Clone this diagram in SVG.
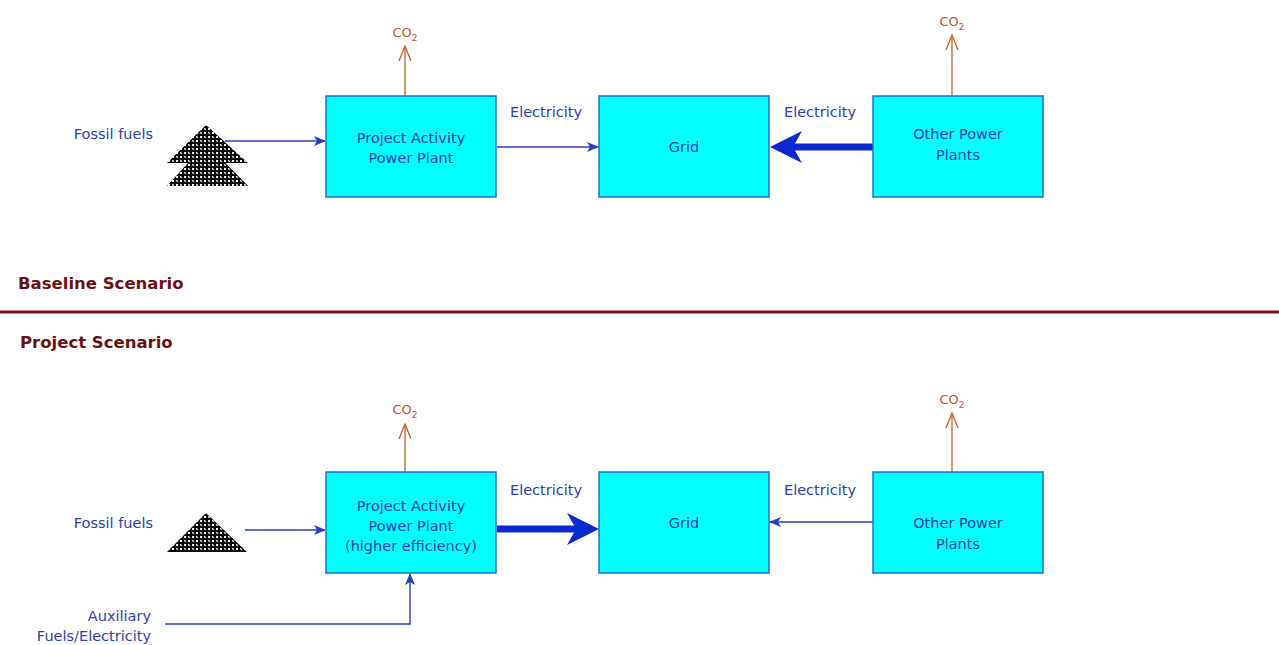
<svg xmlns="http://www.w3.org/2000/svg" width="1279" height="645" viewBox="0 0 1279 645">
<defs>
<style>
.box{fill:#00ffff;stroke:#1f6fd6;stroke-width:1.5}
.t{font-family:"DejaVu Sans",Verdana,sans-serif;font-size:14.5px;fill:#2a3fb0;text-anchor:middle}
.l{font-family:"DejaVu Sans",Verdana,sans-serif;font-size:14.5px;fill:#2a3fb0;text-anchor:end}
.co{font-family:"DejaVu Sans",Verdana,sans-serif;font-size:13px;fill:#c8501e;text-anchor:middle}
.h{font-family:"DejaVu Sans",Verdana,sans-serif;font-size:16.5px;font-weight:bold;fill:#6e1010}
.thin{stroke:#2a3fc0;stroke-width:1.4;fill:none}
.thick{stroke:#0a2ad0;stroke-width:7;fill:none}
.co2{stroke:#c8602a;stroke-width:1.3;fill:none}
</style>
<marker id="ah" viewBox="0 0 12 10" refX="11" refY="5" markerWidth="12" markerHeight="10" markerUnits="userSpaceOnUse" orient="auto">
<path d="M0,0 L12,5 L0,10 L3,5 Z" fill="#2a3fc0"/>
</marker>
<marker id="aco" viewBox="0 0 16 14" refX="15" refY="7" markerWidth="16" markerHeight="14" markerUnits="userSpaceOnUse" orient="auto">
<path d="M0,1 L15,7 L0,13" fill="none" stroke="#c8602a" stroke-width="1.3"/>
</marker>
<pattern id="pile" width="8" height="8" patternUnits="userSpaceOnUse">
<rect width="8" height="8" fill="#000"/>
<rect x="0" y="0" width="2" height="2" fill="#fff"/>
<rect x="4" y="4" width="2" height="2" fill="#fff"/>
<rect x="4" y="0" width="2" height="2" fill="#fff"/>
<rect x="0" y="4" width="2" height="2" fill="#fff"/>
<circle cx="6" cy="2" r="1.8" fill="#111"/>
<circle cx="2" cy="6" r="1.8" fill="#111"/>
<circle cx="5.5" cy="1.5" r="0.6" fill="#fff"/>
<circle cx="1.5" cy="5.5" r="0.6" fill="#fff"/>
</pattern>
</defs>
<rect width="1279" height="645" fill="#fff"/>

<g id="headings">
<text class="h" x="18" y="289">Baseline Scenario</text>
<line x1="0" y1="312" x2="1279" y2="312" stroke="#7a1515" stroke-width="3"/>
<text class="h" x="20" y="348">Project Scenario</text>
</g>

<g id="connectors">
<line class="thin" x1="225" y1="141" x2="325" y2="141" marker-end="url(#ah)"/>
<line class="thin" x1="497" y1="147" x2="598" y2="147" marker-end="url(#ah)"/>
<line class="thick" x1="873" y1="147" x2="790" y2="147"/>
<path d="M770,147 L802,131 L793,147 L802,163 Z" fill="#0a2ad0"/>
<line class="co2" x1="405" y1="96" x2="405" y2="46" marker-end="url(#aco)"/>
<line class="co2" x1="952" y1="96" x2="952" y2="35" marker-end="url(#aco)"/>

<line class="thin" x1="245" y1="530" x2="325" y2="530" marker-end="url(#ah)"/>
<line class="thick" x1="497" y1="529" x2="578" y2="529"/>
<path d="M599,529 L567,513 L576,529 L567,545 Z" fill="#0a2ad0"/>
<line class="thin" x1="873" y1="522" x2="770" y2="522" marker-end="url(#ah)"/>
<polyline class="thin" points="165,624 410,624 410,574" marker-end="url(#ah)"/>
<line class="co2" x1="405" y1="472" x2="405" y2="424" marker-end="url(#aco)"/>
<line class="co2" x1="952" y1="472" x2="952" y2="413" marker-end="url(#aco)"/>
</g>

<g id="fossil-top">
<polygon points="206,143 248,186 167,186" fill="url(#pile)"/>
<polygon points="206,125 248,163 167,163" fill="url(#pile)"/>
<text class="l" x="153" y="139">Fossil fuels</text>
</g>

<g id="project-top">
<rect class="box" x="326" y="96" width="170" height="101"/>
<text class="t" x="411" y="143">Project Activity</text>
<text class="t" x="411" y="163">Power Plant</text>
<text class="co" x="405" y="37">CO<tspan font-size="9" dy="4">2</tspan></text>
</g>

<g id="grid-top">
<rect class="box" x="599" y="96" width="170" height="101"/>
<text class="t" x="684" y="152">Grid</text>
<text class="t" x="546" y="117">Electricity</text>
</g>

<g id="other-top">
<rect class="box" x="873" y="96" width="170" height="101"/>
<text class="t" x="958" y="139">Other Power</text>
<text class="t" x="958" y="160">Plants</text>
<text class="t" x="820" y="117">Electricity</text>
<text class="co" x="952" y="26">CO<tspan font-size="9" dy="4">2</tspan></text>
</g>

<g id="fossil-bottom">
<polygon points="206,513 247,552 167,552" fill="url(#pile)"/>
<text class="l" x="153" y="528">Fossil fuels</text>
</g>

<g id="project-bottom">
<rect class="box" x="326" y="472" width="170" height="101"/>
<text class="t" x="411" y="511">Project Activity</text>
<text class="t" x="411" y="531">Power Plant</text>
<text class="t" x="411" y="551">(higher efficiency)</text>
<text class="co" x="405" y="414">CO<tspan font-size="9" dy="4">2</tspan></text>
</g>

<g id="grid-bottom">
<rect class="box" x="599" y="472" width="170" height="101"/>
<text class="t" x="684" y="528">Grid</text>
<text class="t" x="546" y="495">Electricity</text>
</g>

<g id="other-bottom">
<rect class="box" x="873" y="472" width="170" height="101"/>
<text class="t" x="958" y="528">Other Power</text>
<text class="t" x="958" y="549">Plants</text>
<text class="t" x="820" y="495">Electricity</text>
<text class="co" x="952" y="404">CO<tspan font-size="9" dy="4">2</tspan></text>
</g>

<g id="auxiliary">
<text class="l" x="151" y="621">Auxiliary</text>
<text class="l" x="151" y="641">Fuels/Electricity</text>
</g>
</svg>
